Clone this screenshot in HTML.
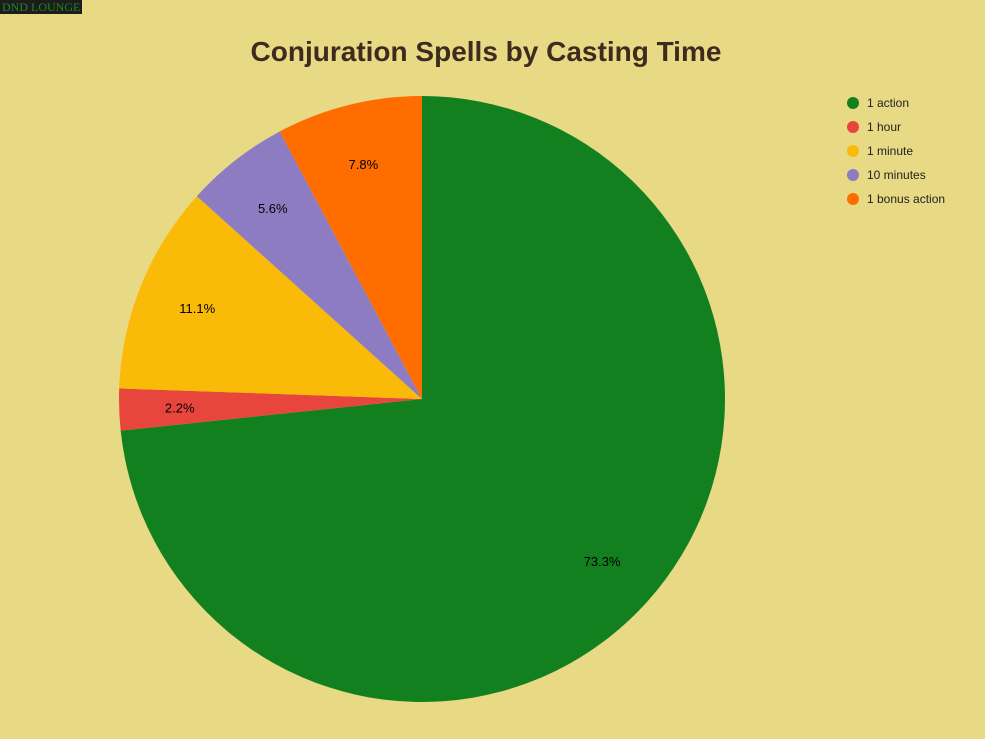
<!DOCTYPE html>
<html><head><meta charset="utf-8"><style>
body{margin:0;background:#e8d984;width:985px;height:739px;overflow:hidden;font-family:"Liberation Sans",sans-serif}
#logo{position:absolute;left:0;top:0;background:#1c1c1c;color:#1e8a1e;font-family:"Liberation Serif",serif;font-size:12px;line-height:14px;padding:0 2px;}
</style></head><body>
<div id="logo">DND LOUNGE</div>
<svg id="chart" width="985" height="739" style="position:absolute;left:0;top:0">
<text x="486" y="61" text-anchor="middle" font-size="28" font-weight="bold" fill="#3d2b1f" font-family="Liberation Sans">Conjuration Spells by Casting Time</text>
<g id="slices"></g><g id="legend"></g>
</svg>
<script>
const categories=["1 action","1 hour","1 minute","10 minutes","1 bonus action"];
const values=[66,2,10,5,7];
const colors=["#138020","#e8453c","#f9bb08","#8e7cc3","#ff6d00"];
const cx=422,cy=399,r=303,NS="http://www.w3.org/2000/svg";
const total=values.reduce((a,b)=>a+b,0);
const sl=document.getElementById('slices'),lg=document.getElementById('legend');
let a=0;
function pt(ang,rad){return [cx+rad*Math.sin(ang),cy-rad*Math.cos(ang)];}
values.forEach((v,i)=>{
 const a2=a+v/total*2*Math.PI;
 const [x1,y1]=pt(a,r),[x2,y2]=pt(a2,r);
 const p=document.createElementNS(NS,'path');
 p.setAttribute('d',`M${cx},${cy}L${x1},${y1}A${r},${r} 0 ${a2-a>Math.PI?1:0} 1 ${x2},${y2}Z`);
 p.setAttribute('fill',colors[i]);
 
 
 sl.appendChild(p);
 const [lx,ly]=pt((a+a2)/2,r*0.8);
 const t=document.createElementNS(NS,'text');
 t.setAttribute('x',lx);t.setAttribute('y',ly+5);t.setAttribute('text-anchor','middle');
 t.setAttribute('font-size','13');t.setAttribute('fill','#000');
 t.textContent=(v/total*100).toFixed(1)+'%';
 
 
 sl.appendChild(t);
 a=a2;
 const g=document.createElementNS(NS,'g');
 
 
 const c=document.createElementNS(NS,'circle');
 c.setAttribute('cx',853);c.setAttribute('cy',103+i*24);c.setAttribute('r',6);c.setAttribute('fill',colors[i]);
 const lt=document.createElementNS(NS,'text');
 lt.setAttribute('x',867);lt.setAttribute('y',107+i*24);lt.setAttribute('font-size','12');lt.setAttribute('fill','#222');
 lt.textContent=categories[i];
 g.appendChild(c);g.appendChild(lt);lg.appendChild(g);
});
</script>
</body></html>
